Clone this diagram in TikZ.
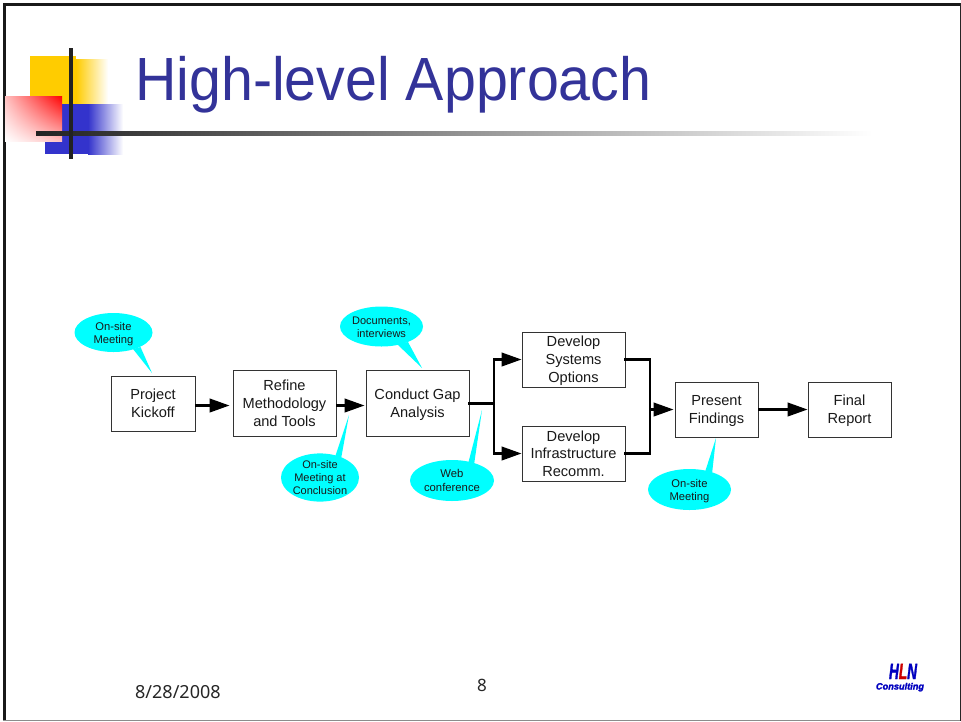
\documentclass[tikz,border=0pt]{standalone}
\usepackage{fontspec}
\setmainfont{Liberation Sans}
\newfontfamily\footfont{Noto Sans}
\newfontfamily\logofont[UprightFont={* Bold Italic},FakeBold=2]{Liberation Sans}
\usetikzlibrary{arrows.meta,shapes.geometric,shadings}
\definecolor{titleblue}{HTML}{333399}
\definecolor{bubble}{HTML}{00FFFF}
\definecolor{logoyellow}{HTML}{FFCC00}
\definecolor{logoblue}{HTML}{3333CC}
\definecolor{barblack}{HTML}{222222}
\definecolor{boxedge}{HTML}{333333}
\newcommand\lowered[2]{\raisebox{-#1pt}[\height][\depth]{#2}}
\tikzset{
  x=1pt,y=-1pt,
  stepbox/.style={draw=boxedge,line width=0.9pt,fill=white,anchor=center,align=center,inner sep=0pt,
     font=\fontsize{14.6}{18}\selectfont,text=black!90},
  bubbleshape/.style={ellipse,fill=bubble,draw=none,inner sep=0pt,align=center,anchor=center,
     font=\fontsize{11}{13}\selectfont,text=black!90},
  flow/.style={line width=2.6pt,-{Triangle[length=20pt,width=13.5pt]},shorten >=3pt},
  link/.style={line width=2.6pt,line cap=rect},
}
\begin{document}
\begin{tikzpicture}
\useasboundingbox (0,0) rectangle (961,721);
\fill[white] (0,0) rectangle (961,721);
% slide frame
\fill[black!90] (3,3) rectangle (961,6);
\fill[black!90] (3,3) rectangle (6,721);
\fill[black!45] (3,719.7) rectangle (961,721);
\fill[black!85] (959.7,3) rectangle (961,721);
% corner ornament
\fill[logoyellow] (30,56) rectangle (76,104);
\shade[left color=logoyellow,right color=white] (76,59) rectangle (108,104);
\fill[logoblue] (62,104) rectangle (88,154);
\fill[logoblue] (45,141) rectangle (62,154);
\shade[left color=logoblue,right color=white] (88,104) rectangle (123,154);
\shade[upper right=red,upper left=red!25,lower right=red!25,lower left=white] (5,96) rectangle (62,141);
\shade[left color=barblack,right color=white] (36,131) rectangle (872,135);
\fill[barblack] (69,48) rectangle (73,159);
% title and footer
\node[anchor=base west,inner sep=0pt,text=titleblue,font=\fontsize{61}{70}\selectfont,xscale=.94,transform shape] (title) at (135,100.5) {High-level Approach};
\node[anchor=base west,inner sep=0pt,font=\footfont\fontsize{18}{22}\selectfont,text=black!85] (date) at (135,698.5) {8/28/2008};
\node[anchor=base,inner sep=0pt,font=\footfont\fontsize{17}{20}\selectfont,text=black!85] (page) at (482,691) {8};
% company mark
\node[anchor=base,inner sep=0pt,font=\logofont\fontsize{22}{22}\selectfont,text=blue!75!black,xscale=.62,transform shape] (logoname) at (903,679) {H\textcolor{red!80!black}{L}N};
\node[anchor=base,inner sep=0pt,font=\logofont\fontsize{9.2}{10}\selectfont,text=blue!75!black] (logosub) at (900,689.5) {Consulting};
% callout tails
\fill[bubble] (133,349) -- (152,373) -- (140.5,347) -- cycle;
\fill[bubble] (397,344) -- (422,368) -- (408,342) -- cycle;
\fill[bubble] (335,457) -- (349,415) -- (341,459) -- cycle;
\fill[bubble] (468,464) -- (482,410) -- (474,465) -- cycle;
\fill[bubble] (705,472) -- (716,438) -- (712,474) -- cycle;
% callouts
\node[bubbleshape,minimum width=78pt,minimum height=39pt,font=\fontsize{11.2}{13}\selectfont] (b1) at (113.5,332.5) {\lowered{2}{On-site}\\\lowered{2}{Meeting}};
\node[bubbleshape,minimum width=81pt,minimum height=40pt] (b2) at (381.5,326.5) {\lowered{1}{Documents,}\\\lowered{1}{interviews}};
\node[bubbleshape,minimum width=78pt,minimum height=47pt] (b3) at (320,477.5) {On-site\\Meeting at\\Conclusion};
\node[bubbleshape,minimum width=84pt,minimum height=41pt,font=\fontsize{11.3}{13.8}\selectfont] (b4) at (452,480.5) {Web\\conference};
\node[bubbleshape,minimum width=83pt,minimum height=41pt,font=\fontsize{11.2}{13}\selectfont] (b5) at (689.5,489.5) {\lowered{2}{On-site}\\\lowered{2}{Meeting}};
% process steps
\node[stepbox,minimum width=84pt,minimum height=55pt] (kick) at (153,403.5) {Project\\Kickoff};
\node[stepbox,minimum width=103pt,minimum height=66pt] (refine) at (284.5,403) {Refine\\Methodology\\and Tools};
\node[stepbox,minimum width=103pt,minimum height=66pt] (gap) at (417.5,403) {\lowered{2}{Conduct Gap}\\\lowered{2}{Analysis}};
\node[stepbox,minimum width=103pt,minimum height=55pt] (sys) at (573.5,359.5) {\lowered{1}{Develop}\\\lowered{1}{Systems}\\\lowered{1}{Options}};
\node[stepbox,minimum width=103pt,minimum height=55pt] (infra) at (573.5,453.5) {\lowered{1}{Develop}\\Infrastructure\\Recomm.};
\node[stepbox,minimum width=83pt,minimum height=55pt] (present) at (716.5,409.5) {\lowered{1}{Present}\\\lowered{1}{Findings}};
\node[stepbox,minimum width=83pt,minimum height=55pt] (final) at (849.5,409.5) {\lowered{1}{Final}\\\lowered{1}{Report}};
% connectors
\coordinate (split) at (494,403.7);
\coordinate (join) at (650,409.5);
\draw[flow] ([yshift=-2pt]kick.east) -- ([yshift=-2pt]kick.east -| refine.west);
\draw[flow,shorten >=1pt] ([yshift=-2.5pt]refine.east) -- ([yshift=-2.5pt]refine.east -| gap.west);
\draw[link] (gap.east |- split) -- (split);
\draw[flow,shorten >=0pt] (split) |- (sys.west);
\draw[flow,shorten >=0pt] (split) |- (infra.west);
\draw[link] (sys.east) -| (join);
\draw[link] (infra.east) -| (join);
\draw[flow,shorten >=1pt] (join) -- (present.west);
\draw[flow,shorten >=0pt] (present.east) -- (final.west);
\end{tikzpicture}
\end{document}
